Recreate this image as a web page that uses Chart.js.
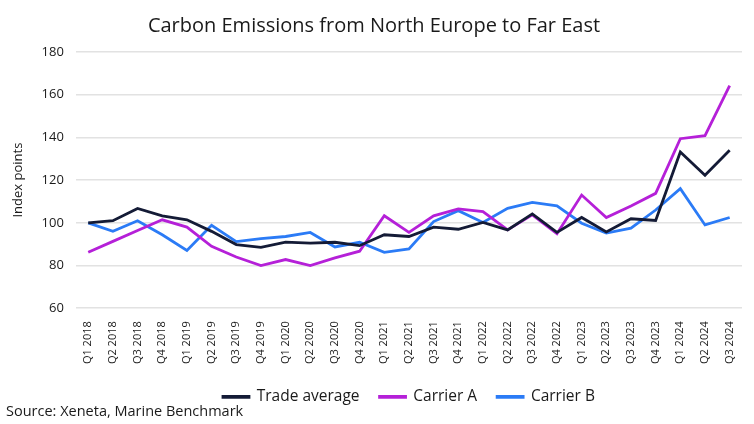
<!DOCTYPE html>
<html>
<head>
<meta charset="utf-8">
<script src="https://cdn.jsdelivr.net/npm/chart.js@4"></script>
<style>
  html, body { margin: 0; padding: 0; background: #fff; }
  #wrap { width: 754px; height: 424px; }
</style>
</head>
<body>
<div id="wrap"><canvas id="myChart" width="754" height="424"></canvas></div>
<script>
const quarters = [
    "Q1 2018", "Q2 2018", "Q3 2018", "Q4 2018",
    "Q1 2019", "Q2 2019", "Q3 2019", "Q4 2019",
    "Q1 2020", "Q2 2020", "Q3 2020", "Q4 2020",
    "Q1 2021", "Q2 2021", "Q3 2021", "Q4 2021",
    "Q1 2022", "Q2 2022", "Q3 2022", "Q4 2022",
    "Q1 2023", "Q2 2023", "Q3 2023", "Q4 2023",
    "Q1 2024", "Q2 2024", "Q3 2024"
];

const tradeAverage = [
    100, 101, 106.7, 103.3, 101.4, 96, 89.8, 88.5, 91,
    90.5, 90.9, 89.3, 94.4, 93.6, 98, 97, 100.2, 96.7,
    104.2, 95.5, 102.5, 95.7, 101.9, 101.1, 133.2, 122.3, 134
];

const carrierA = [
    86.2, 91.3, 96.4, 101.4, 98, 89, 84, 80, 82.8,
    80, 83.6, 86.7, 103.3, 95.5, 103.3, 106.5, 105.3, 96.7,
    103.7, 94.9, 113, 102.5, 107.9, 113.8, 139.4, 140.8, 164.2
];

const carrierB = [
    100, 96, 101, 94.4, 87.1, 98.8, 91.2, 92.6, 93.6,
    95.5, 88.7, 90.9, 86.2, 87.8, 100.6, 105.7, 100.2, 106.8,
    109.6, 107.9, 99.8, 95.2, 97.5, 106, 116, 99, 102.5
];

const yTicks = [60, 80, 100, 120, 140, 160, 180];

const fontFamily = "'Open Sans', 'DejaVu Sans', sans-serif";
const textColor = "#1a1a1a";

function makeLine(label, data, color) {
    return {
        label: label,
        data: data,
        borderColor: color,
        backgroundColor: color,
        borderWidth: 2.8,
        pointRadius: 0,
        tension: 0,
        fill: false
    };
}

// the legend sits centred under the plot area, not under the whole canvas
const legendShift = {
    id: 'legendShift',
    afterLayout(chart) {
        const lg = chart.legend;
        const area = chart.chartArea;
        const dx = (area.left + area.right) / 2 - (lg.left + lg.right) / 2;
        lg.left += dx;
        lg.right += dx;
    }
};

const ctx = document.getElementById("myChart").getContext("2d");

new Chart(ctx, {
    type: 'line',
    data: {
        labels: quarters,
        datasets: [
            makeLine('Trade average', tradeAverage, '#141b36'),
            makeLine('Carrier A', carrierA, '#b520d8'),
            makeLine('Carrier B', carrierB, '#2b7bf6')
        ]
    },
    options: {
        responsive: false,
        animation: false,
        layout: {
            padding: { left: 6, right: 12, top: 8, bottom: 2 }
        },
        scales: {
            x: {
                offset: true,
                grid: { display: false },
                border: { display: false },
                ticks: {
                    color: textColor,
                    font: { family: fontFamily, size: 11 },
                    maxRotation: 90,
                    minRotation: 90,
                    autoSkip: false,
                    padding: 5
                }
            },
            y: {
                min: yTicks[0],
                max: yTicks[yTicks.length - 1],
                afterBuildTicks: axis => {
                    axis.ticks = yTicks.map(v => ({ value: v }));
                },
                grid: {
                    color: '#e2e2e2',
                    lineWidth: 1.5,
                    drawTicks: false
                },
                border: { display: false },
                ticks: {
                    color: textColor,
                    font: { family: fontFamily, size: 13 },
                    padding: 12
                },
                title: {
                    display: true,
                    text: 'Index points',
                    color: textColor,
                    font: { family: fontFamily, size: 13 },
                    padding: { bottom: 4 }
                }
            }
        },
        plugins: {
            title: {
                display: true,
                text: 'Carbon Emissions from North Europe to Far East',
                color: textColor,
                font: { family: fontFamily, size: 20, weight: 'normal' },
                padding: { top: 6, bottom: 14 }
            },
            legend: {
                position: 'bottom',
                labels: {
                    color: textColor,
                    font: { family: fontFamily, size: 15.5 },
                    boxWidth: 26,
                    boxHeight: 1,
                    padding: 20
                }
            },
            subtitle: {
                display: true,
                position: 'bottom',
                align: 'start',
                text: 'Source: Xeneta, Marine Benchmark',
                color: textColor,
                font: { family: fontFamily, size: 14.5 },
                padding: { top: -11, bottom: 1 }
            },
            tooltip: { enabled: false }
        }
    },
    plugins: [legendShift]
});
</script>
</body>
</html>
